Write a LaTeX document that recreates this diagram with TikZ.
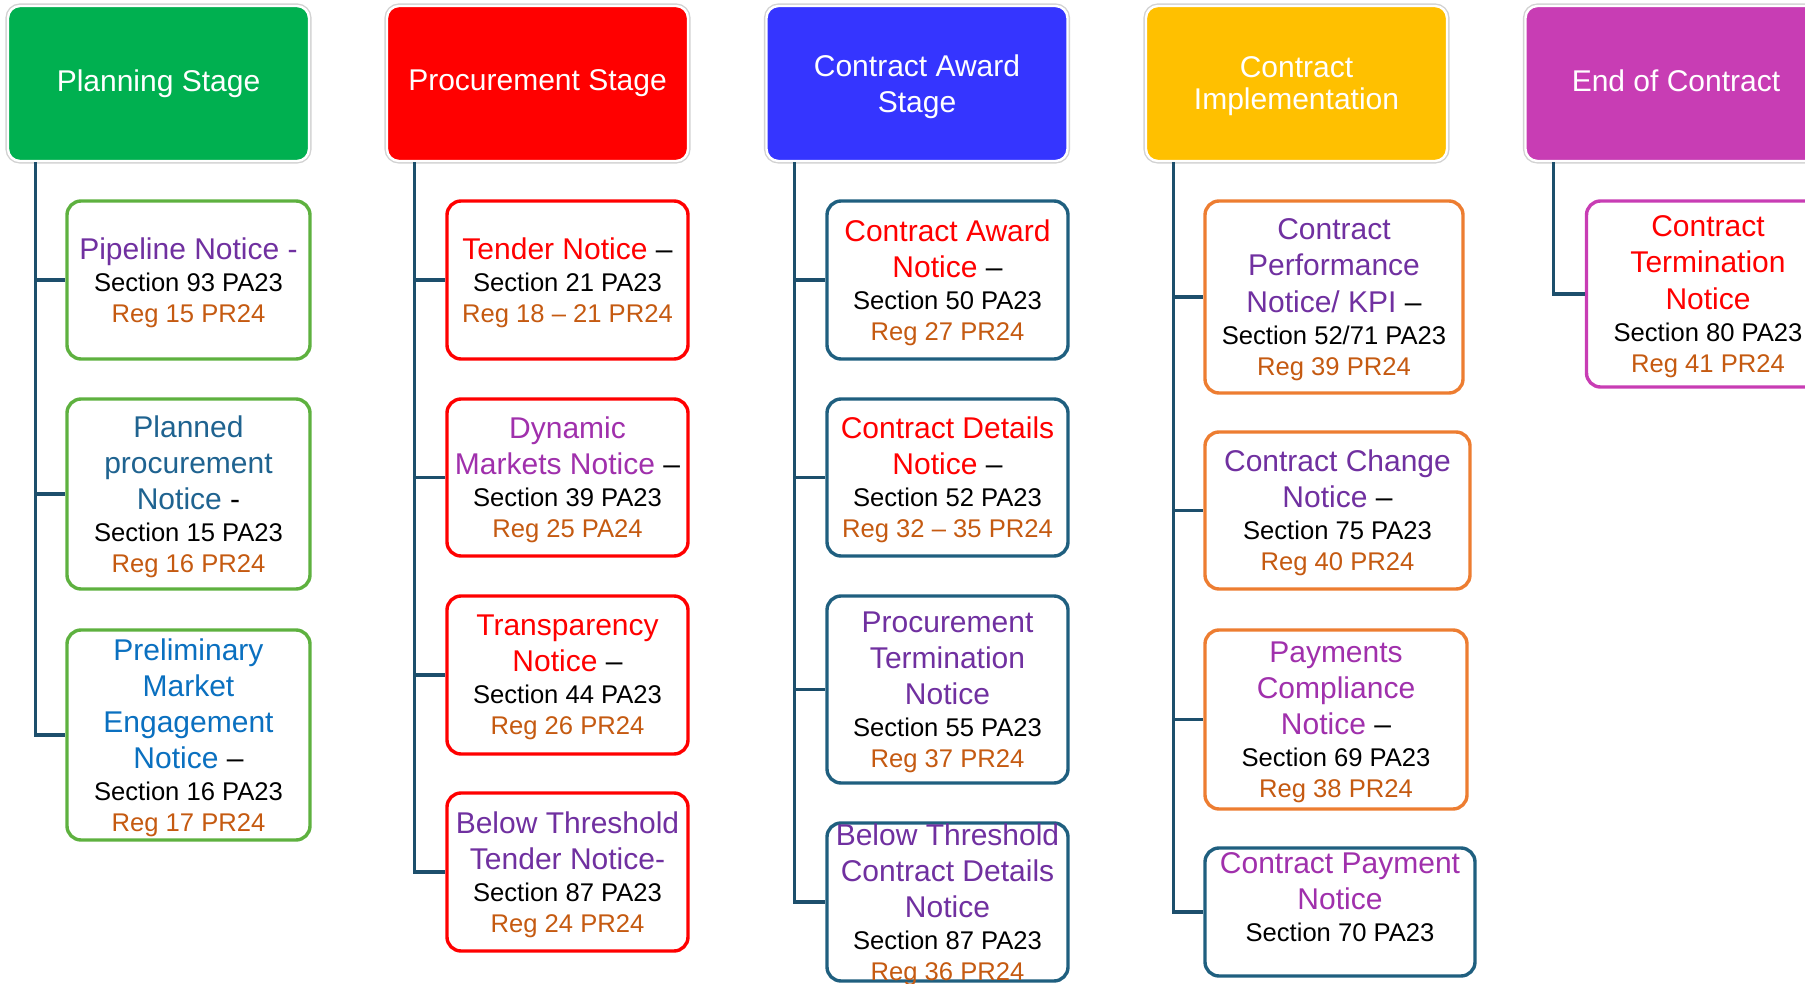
\documentclass[tikz,border=0pt]{standalone}
\usepackage{fontspec}
\setmainfont{Liberation Sans}
\definecolor{hgreen}{HTML}{00B050}
\definecolor{hred}{HTML}{FF0000}
\definecolor{hblue}{HTML}{3535FF}
\definecolor{hgold}{HTML}{FFC000}
\definecolor{hmag}{HTML}{C83DB4}
\definecolor{trunkc}{HTML}{1D4F6C}
\definecolor{bgreen}{HTML}{5EB13F}
\definecolor{bteal}{HTML}{1F5F7F}
\definecolor{borange}{HTML}{ED7D31}
\definecolor{tpurple}{HTML}{7030A0}
\definecolor{tmag}{HTML}{A030AC}
\definecolor{tblue}{HTML}{1F6390}
\definecolor{tblue2}{HTML}{0A70C0}
\definecolor{regc}{HTML}{C55A11}
\newcommand{\ntl}[2]{\textcolor{#1}{\fontsize{15}{18}\selectfont #2}}
\newcommand{\nreg}[1]{\textcolor{regc}{#1}}
\begin{document}
\begin{tikzpicture}[x=0.5pt, y=-0.5pt,
  hd/.style={rounded corners=6pt, fill=#1, draw=white, line width=1.2pt,
    preaction={draw=gray!35, line width=2.6pt}, text=white, align=center,
    minimum width=150.5pt, minimum height=77.5pt, font=\fontsize{15}{18}\selectfont},
  cb/.style n args={3}{rounded corners=7pt, draw=#1, line width=1.7pt, fill=white,
    minimum width=#2, minimum height=#3, inner sep=1pt, align=center, text depth=-1pt,
    font=\fontsize{12.8}{15.5}\selectfont},
  trunk/.style={draw=trunkc, line width=1.6pt}]
\clip (0,0) rectangle (1805,984);

\node[hd=hgreen] (h1) at (158.5,83.5) {Planning Stage};
\node[hd=hred] (h2) at (537.5,83.5) {Procurement Stage};
\node[hd=hblue, text depth=0pt] (h3) at (917,83.5) {Contract Award\\Stage};
\node[hd=hgold, text depth=0pt] (h4) at (1296.5,83.5) {Contract\\[-2pt]Implementation};
\node[hd=hmag, text depth=2.5pt] (h5) at (1676,83.5) {End of Contract};

\node[cb={bgreen}{121.5pt}{79pt}] (p1) at (188.5,280) {\ntl{tpurple}{Pipeline Notice -}\\[0.5pt]Section 93 PA23\\\nreg{Reg 15 PR24}};
\node[cb={bgreen}{121.5pt}{95pt}] (p2) at (188.5,494) {\ntl{tblue}{Planned}\\[2.6pt]\ntl{tblue}{procurement}\\[2.6pt]\ntl{tblue}{Notice \textcolor{black}{-}}\\[0.5pt]Section 15 PA23\\\nreg{Reg 16 PR24}};
\node[cb={bgreen}{121.5pt}{105pt}] (p3) at (188.5,735) {\ntl{tblue2}{Preliminary}\\[2.6pt]\ntl{tblue2}{Market}\\[2.6pt]\ntl{tblue2}{Engagement}\\[2.6pt]\ntl{tblue2}{Notice \textcolor{black}{–}}\\[0.5pt]Section 16 PA23\\\nreg{Reg 17 PR24}};

\node[cb={hred}{120.5pt}{79pt}] (q1) at (567.5,280) {\ntl{hred}{Tender Notice \textcolor{black}{–}}\\[0.5pt]Section 21 PA23\\\nreg{Reg 18 – 21 PR24}};
\node[cb={hred}{120.5pt}{78.5pt}] (q2) at (567.5,477.5) {\ntl{tmag}{Dynamic}\\[2.6pt]\ntl{tmag}{Markets Notice \textcolor{black}{–}}\\[0.5pt]Section 39 PA23\\\nreg{Reg 25 PA24}};
\node[cb={hred}{120.5pt}{79pt}] (q3) at (567.5,675) {\ntl{hred}{Transparency}\\[2.6pt]\ntl{hred}{Notice \textcolor{black}{–}}\\[0.5pt]Section 44 PA23\\\nreg{Reg 26 PR24}};
\node[cb={hred}{120.5pt}{79pt}] (q4) at (567.5,872) {\ntl{tpurple}{Below Threshold}\\[2.6pt]\ntl{tpurple}{Tender Notice-}\\[0.5pt]Section 87 PA23\\\nreg{Reg 24 PR24}};

\node[cb={bteal}{120.5pt}{79pt}] (r1) at (947.5,280) {\ntl{hred}{Contract Award}\\[2.6pt]\ntl{hred}{Notice \textcolor{black}{–}}\\[0.5pt]Section 50 PA23\\\nreg{Reg 27 PR24}};
\node[cb={bteal}{120.5pt}{78.5pt}] (r2) at (947.5,477.5) {\ntl{hred}{Contract Details}\\[2.6pt]\ntl{hred}{Notice \textcolor{black}{–}}\\[0.5pt]Section 52 PA23\\\nreg{Reg 32 – 35 PR24}};
\node[cb={bteal}{120.5pt}{93.5pt}] (r3) at (947.5,689.5) {\ntl{tpurple}{Procurement}\\[2.6pt]\ntl{tpurple}{Termination}\\[2.6pt]\ntl{tpurple}{Notice}\\[0.5pt]Section 55 PA23\\\nreg{Reg 37 PR24}};
\node[cb={bteal}{120.5pt}{79pt}, inner ysep=0pt] (r4) at (947.5,902) {\ntl{tpurple}{Below Threshold}\\[2.6pt]\ntl{tpurple}{Contract Details}\\[2.6pt]\ntl{tpurple}{Notice}\\[0.5pt]Section 87 PA23\\\nreg{Reg 36 PR24}};

\node[cb={borange}{129pt}{96pt}] (s1) at (1334,297) {\ntl{tpurple}{Contract}\\[2.6pt]\ntl{tpurple}{Performance}\\[2.6pt]\ntl{tpurple}{Notice/ KPI \textcolor{black}{–}}\\[0.5pt]Section 52/71 PA23\\\nreg{Reg 39 PR24}};
\node[cb={borange}{132.5pt}{78.5pt}] (s2) at (1337.5,510.5) {\ntl{tpurple}{Contract Change}\\[2.6pt]\ntl{tpurple}{Notice \textcolor{black}{–}}\\[0.5pt]Section 75 PA23\\\nreg{Reg 40 PR24}};
\node[cb={borange}{131pt}{89.5pt}] (s3) at (1336,719.5) {\ntl{tmag}{Payments}\\[2.6pt]\ntl{tmag}{Compliance}\\[2.6pt]\ntl{tmag}{Notice \textcolor{black}{–}}\\[0.5pt]Section 69 PA23\\\nreg{Reg 38 PR24}};
\node[cb={bteal}{135pt}{64pt}, text depth=15pt] (s4) at (1340,912) {\ntl{tmag}{Contract Payment}\\[2.6pt]\ntl{tmag}{Notice}\\[0.5pt]Section 70 PA23};

\node[cb={hmag}{121.5pt}{93pt}] (t1) at (1708,294) {\ntl{hred}{Contract}\\[2.6pt]\ntl{hred}{Termination}\\[2.6pt]\ntl{hred}{Notice}\\[0.5pt]Section 80 PA23\\\nreg{Reg 41 PR24}};

\foreach \h/\c in {h1/p1,h1/p2,h1/p3,h2/q1,h2/q2,h2/q3,h2/q4,h3/r1,h3/r2,h3/r3,h3/r4,
  h4/s1,h4/s2,h4/s3,h4/s4,h5/t1}
  \draw[trunk] (\h.south west) ++(29,0) |- (\c.west);
\end{tikzpicture}
\end{document}
